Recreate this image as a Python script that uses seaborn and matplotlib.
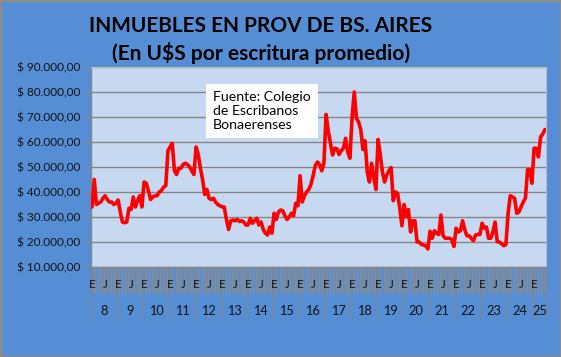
import numpy as np
import pandas as pd
import matplotlib
matplotlib.use("Agg")
import matplotlib.pyplot as plt
import seaborn as sns
from matplotlib.patches import Rectangle

# ---------------- data ----------------
year_labels = ["8", "9", "10", "11", "12", "13", "14", "15", "16",
               "17", "18", "19", "20", "21", "22", "23", "24", "25"]
months_per_year = [12] * 17 + [6]
half_year_letters = ["E", "J"]          # Enero / Julio
half_year_month = [0, 6]

promedio_usd = [
    # 2008
    34000, 45000, 35000, 35500, 36000, 37500, 38500, 37000, 36000, 36000, 35000, 35500,
    # 2009
    36800, 32000, 28000, 27700, 28000, 33500, 33000, 38000, 34000, 36500, 38500, 34000,
    # 2010
    44000, 43500, 40500, 37000, 38000, 38500, 38500, 40000, 40500, 42000, 42500, 56500,
    # 2011
    58000, 59500, 48500, 47000, 49500, 49500, 51000, 51500, 51000, 50000, 48500, 47000,
    # 2012
    58000, 55000, 49500, 45000, 39000, 41000, 37500, 37000, 37500, 36000, 35000, 34500,
    # 2013
    34100, 34000, 29000, 25000, 28500, 28800, 28500, 29000, 28200, 28500, 28000, 26800,
    # 2014
    26800, 29500, 27500, 28500, 29500, 26800, 28000, 25000, 23500, 22800, 26000, 23500,
    # 2015
    31500, 29000, 32000, 32800, 32500, 30500, 29000, 30000, 31500, 30500, 35500, 34500,
    # 2016
    46500, 36000, 38500, 40000, 41000, 43000, 46500, 50500, 52000, 51000, 48500, 51500,
    # 2017
    71000, 64500, 59500, 54800, 57500, 57300, 55000, 56500, 57500, 61500, 56000, 53500,
    # 2018
    70000, 80000, 69500, 68000, 65000, 57000, 60500, 48000, 44000, 51500, 46000, 41000,
    # 2019
    61000, 55000, 48000, 44000, 46800, 48500, 49800, 36500, 40000, 39500, 33500, 26500,
    # 2020
    35000, 30000, 33000, 24000, 28500, 28500, 20000, 20000, 19000, 18800, 18500, 17200,
    # 2021
    24300, 21500, 24500, 23500, 23000, 30800, 22500, 21500, 21500, 21500, 21000, 18200,
    # 2022
    25500, 24000, 24500, 28500, 25000, 22500, 22500, 21500, 20500, 22800, 23000, 23000,
    # 2023
    27500, 25500, 26000, 21500, 21500, 24000, 28000, 20100, 20000, 19300, 18500, 19000,
    # 2024
    31500, 38500, 38000, 37500, 31500, 32000, 34000, 36000, 37500, 49000, 49000, 43500,
    # 2025
    57500, 57500, 54000, 62000, 63200, 65000,
]

y_ticks = [10000, 20000, 30000, 40000, 50000, 60000, 70000, 80000, 90000]

# ---------------- styling ----------------
sns.set_theme(style="white")
plt.rcParams["font.family"] = ["Lato", "DejaVu Sans"]

BG = "#558ED5"
PLOT_BG = "#C6D9F1"
GRID = "#868686"

W, H = 561, 357
fig = plt.figure(figsize=(W / 100, H / 100), dpi=100, facecolor=BG)
L, R, T, B = 91, 546, 67, 267
ax = fig.add_axes([L / W, (H - B) / H, (R - L) / W, (B - T) / H])
ax.set_facecolor(PLOT_BG)

df = pd.DataFrame({"mes": np.arange(len(promedio_usd)), "usd": promedio_usd})
sns.lineplot(data=df, x="mes", y="usd", ax=ax, color="#FF0000", linewidth=2.6,
             solid_joinstyle="round", zorder=3)

n = len(promedio_usd)
ax.set_xlim(-0.5, n - 0.5)
ax.set_ylim(y_ticks[0], y_ticks[-1])
ax.set_xlabel("")
ax.set_ylabel("")

# y axis
ax.set_yticks(y_ticks)
ax.set_yticklabels(["$ " + f"{v:,.2f}".replace(",", "X").replace(".", ",").replace("X", ".")
                    for v in y_ticks], fontsize=8.5, color="#111111")
ax.tick_params(axis="y", length=5, width=0.8, color=GRID, pad=3, left=True)
ax.yaxis.grid(True, color=GRID, linewidth=1.0)
ax.set_axisbelow(True)
ax.set_xticks([])

for s in ["top", "right"]:
    ax.spines[s].set_color("#BFBFBF")
    ax.spines[s].set_linewidth(0.8)
ax.spines["left"].set_color(GRID)
ax.spines["bottom"].set_color(GRID)
ax.spines["left"].set_linewidth(1.0)
ax.spines["bottom"].set_linewidth(1.0)

# category (month) axis
xt = ax.get_xaxis_transform()
band = 26 / (B - T)
sep = 51 / (B - T)
for i in range(n + 1):
    ax.plot([i - 0.5, i - 0.5], [0, -band], transform=xt, color="#8C8C8C",
            linewidth=0.8, clip_on=False, zorder=1)

start = 0
for yl, m in zip(year_labels, months_per_year):
    ax.plot([start - 0.5, start - 0.5], [0, -sep], transform=xt, color=GRID,
            linewidth=0.8, clip_on=False)
    for letter, off in zip(half_year_letters, half_year_month):
        if off < m:
            ax.text(start + off, -18 / (B - T), letter, transform=xt, ha="center",
                    va="center", fontsize=8.4, color="#111111")
    ax.text(start + (m - 1) / 2, -44 / (B - T), yl, transform=xt, ha="center",
            va="center", fontsize=9.2, color="#111111")
    start += m
ax.plot([start - 0.5, start - 0.5], [0, -sep], transform=xt, color=GRID,
        linewidth=0.8, clip_on=False)

# titles
fig.text(261 / W, 1 - 26 / H, "INMUEBLES EN PROV DE BS. AIRES", ha="center",
         va="center", fontsize=15, fontweight="bold", color="#000000")
fig.text(261 / W, 1 - 53 / H, "(En U$S por escritura promedio)", ha="center",
         va="center", fontsize=15, fontweight="bold", color="#000000")

# source box
ax.text(0.268, 0.88, "Fuente: Colegio\nde Escribanos\nBonaerenses", transform=ax.transAxes,
        ha="left", va="top", fontsize=10.2, color="#000000", linespacing=1.2,
        bbox=dict(boxstyle="square,pad=0.5", facecolor="white", edgecolor="none"),
        zorder=5)

# outer frame
fig.patches.append(Rectangle((0, 0), 1, 1, transform=fig.transFigure, fill=False,
                             edgecolor="#8C8C8C", linewidth=2.5))

fig.savefig("out.png", dpi=100, facecolor=BG)
